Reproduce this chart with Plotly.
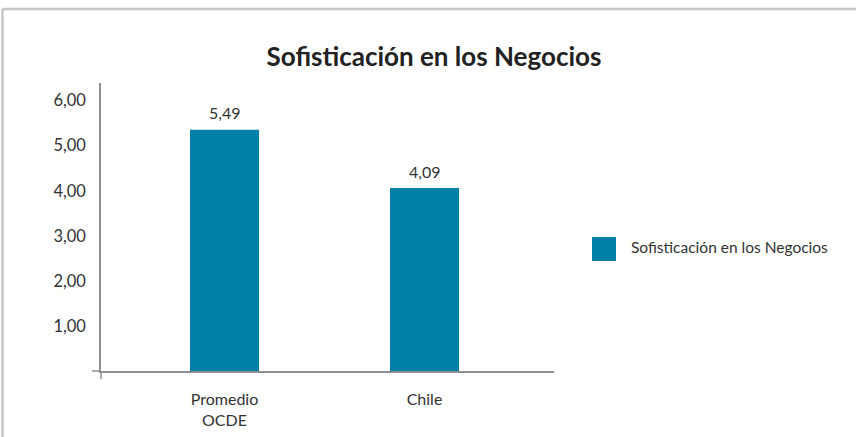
import plotly.graph_objects as go

categories = ["Promedio<br>OCDE", "Chile"]
bar_heights = [5.35, 4.06]
value_labels = ["5,49", "4,09"]
y_ticks = [1, 2, 3, 4, 5, 6]
series_name = "Sofisticación en los Negocios"
title = "Sofisticación en los Negocios"

BAR_COLOR = "#007fa7"
AXIS_COLOR = "#8f8f8f"
TEXT_COLOR = "#333333"
FONT = "Lato"

W, H = 856, 437
L, R, T, B = 101, 554, 83, 371  # plot area in pixels


def px_x(x):
    return (x - L) / (R - L)


def px_y(y):
    return (B - y) / (B - T)


fig = go.Figure()
fig.add_trace(go.Bar(
    x=[0, 1],
    y=bar_heights,
    width=0.345,
    marker=dict(color=BAR_COLOR, line=dict(width=0)),
    name=series_name,
    showlegend=False,
    hoverinfo="skip",
))

for i, (h, lab) in enumerate(zip(bar_heights, value_labels)):
    fig.add_annotation(x=i, y=h, text=lab, showarrow=False, yshift=17,
                       font=dict(family=FONT, size=16, color=TEXT_COLOR))

shapes = [
    # frame around the chart
    dict(type="line", xref="paper", yref="paper", x0=px_x(2.5), x1=px_x(W + 5),
         y0=px_y(9), y1=px_y(9), line=dict(color="#c6c6c6", width=2.5)),
    dict(type="line", xref="paper", yref="paper", x0=px_x(2.5), x1=px_x(2.5),
         y0=px_y(9), y1=px_y(H + 5), line=dict(color="#c6c6c6", width=2.5)),
    # axis extensions at the origin
    dict(type="line", xref="paper", yref="paper", x0=px_x(92), x1=0, y0=0, y1=0,
         line=dict(color=AXIS_COLOR, width=1.5)),
    dict(type="line", xref="paper", yref="paper", x0=0, x1=0, y0=0, y1=px_y(379),
         line=dict(color=AXIS_COLOR, width=1.5)),
    # legend swatch
    dict(type="rect", xref="paper", yref="paper", x0=px_x(592), x1=px_x(616),
         y0=px_y(237), y1=px_y(261), fillcolor=BAR_COLOR, line=dict(width=0)),
]
fig.add_annotation(xref="paper", yref="paper", x=px_x(629), y=px_y(247),
                   xanchor="left", yanchor="middle", showarrow=False,
                   text=series_name,
                   font=dict(family=FONT, size=15.5, color=TEXT_COLOR))

fig.update_layout(
    width=W, height=H,
    margin=dict(l=L, r=W - R, t=T, b=H - B, pad=0),
    paper_bgcolor="white", plot_bgcolor="white",
    separators=", ",
    showlegend=False,
    shapes=shapes,
    title=dict(text=f"<b>{title}</b>", x=434 / W, xanchor="center",
               y=1 - 57 / H, yanchor="middle",
               font=dict(family=FONT, size=26, color="#222222")),
    xaxis=dict(
        range=[-0.6175, 1.6475], tickvals=[0, 1], ticktext=categories,
        showline=True, linecolor=AXIS_COLOR, linewidth=1.5,
        showgrid=False, zeroline=False, ticks="", automargin=False,
        tickfont=dict(family=FONT, size=16, color=TEXT_COLOR),
        ticklabelstandoff=13,
    ),
    yaxis=dict(
        range=[0, 6.39], tickvals=y_ticks, tickformat=".2f",
        showline=True, linecolor=AXIS_COLOR, linewidth=1.5,
        showgrid=False, zeroline=False, ticks="", automargin=False,
        tickfont=dict(family=FONT, size=16.5, color=TEXT_COLOR),
        ticklabelstandoff=10,
    ),
)

# drop the default page margin so the figure sits at the window corner
fig.write_html("out.html", config={"displayModeBar": False},
               post_script="document.body.style.margin='0';")
